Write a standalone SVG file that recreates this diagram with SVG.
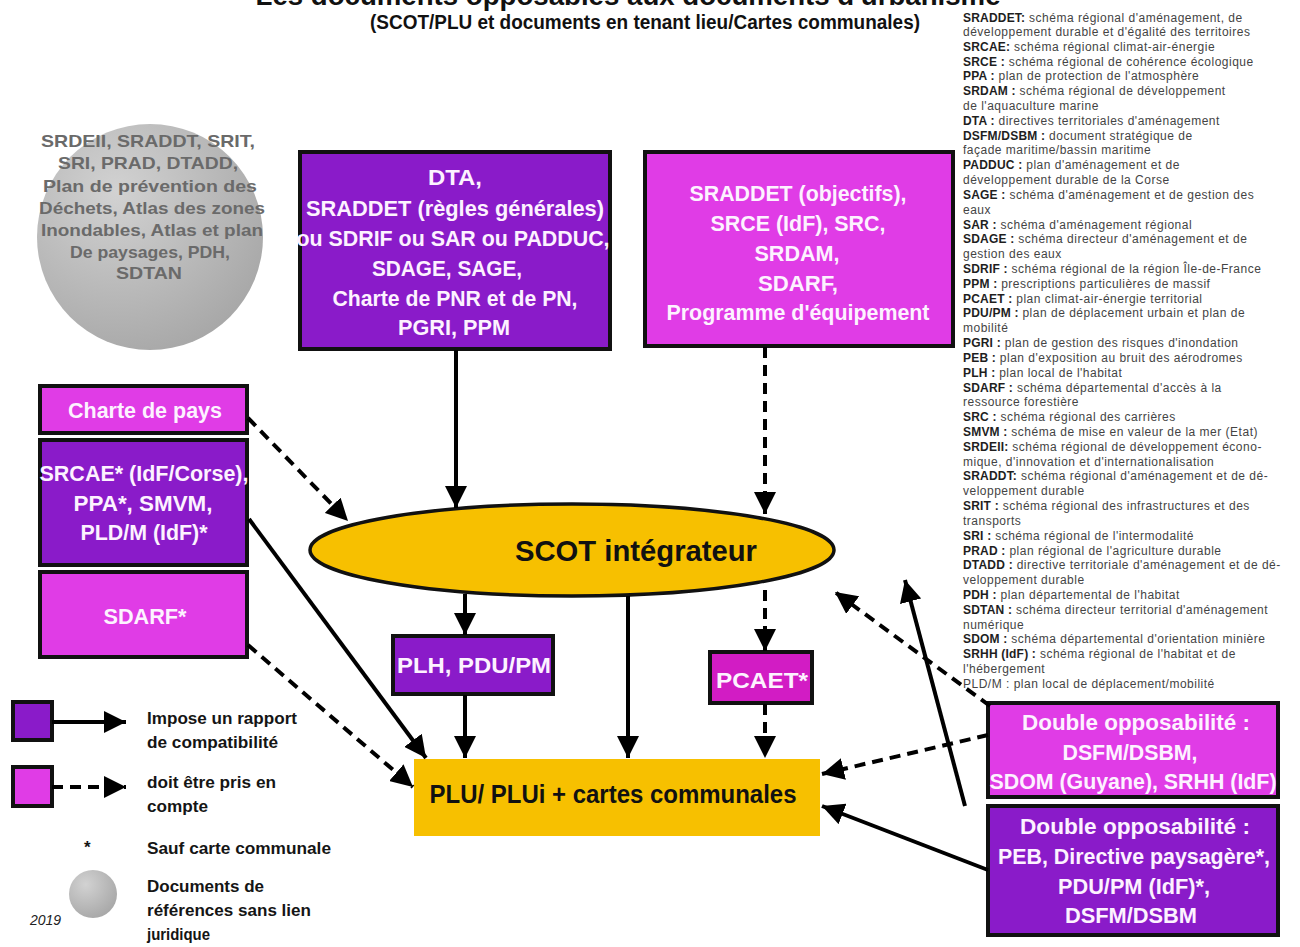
<svg xmlns="http://www.w3.org/2000/svg" width="1300" height="947" viewBox="0 0 1300 947">
  <style>
    .box { stroke: #111; stroke-width: 4; }
    .purple { fill: #8a1bc9; }
    .magenta { fill: #e03ce6; }
    .pink { fill: #d21cc4; }
    .gold { fill: #f7c000; }
    .bt { font-family: "Liberation Sans", Arial, sans-serif; font-weight: bold; fill: #fdf2ff; text-anchor: middle; font-size: 22px; }
    .dark { font-family: "Liberation Sans", Arial, sans-serif; font-weight: bold; fill: #111; text-anchor: middle; }
    .grey { font-family: "Liberation Sans", Arial, sans-serif; font-weight: bold; fill: #6a6a6a; text-anchor: middle; font-size: 17px; }
    .leg { font-family: "Liberation Sans", Arial, sans-serif; font-weight: bold; fill: #151515; font-size: 17px; }
    .glo { font-family: "Liberation Sans", Arial, sans-serif; font-size: 12px; letter-spacing: 0.5px; fill: #444; }
    .glo tspan.k { font-weight: bold; fill: #1e1e1e; letter-spacing: 0.2px; }
    .solid { stroke: #000; stroke-width: 4; fill: none; marker-end: url(#arrow); }
    .dash { stroke: #000; stroke-width: 4; fill: none; stroke-dasharray: 11 7; marker-end: url(#arrow); }
  </style>
  <defs>
    <marker id="arrow" markerUnits="userSpaceOnUse" markerWidth="24" markerHeight="22" refX="22" refY="11" orient="auto">
      <path d="M0,0 L22,11 L0,22 z" fill="#000"/>
    </marker>
    <radialGradient id="greyBall" cx="0.35" cy="0.3" r="0.85">
      <stop offset="0" stop-color="#d2d2d2"/>
      <stop offset="1" stop-color="#a2a2a2"/>
    </radialGradient>
  </defs>

  <rect width="1300" height="947" fill="#ffffff"/>

  <!-- heading -->
  <g id="title">
    <text x="628" y="5" class="dark" font-size="28" textLength="745" lengthAdjust="spacingAndGlyphs" fill="#222">Les documents opposables aux documents d'urbanisme</text>
    <text x="645" y="29" class="dark" font-size="20" textLength="550" lengthAdjust="spacingAndGlyphs" fill="#222">(SCOT/PLU et documents en tenant lieu/Cartes communales)</text>
  </g>

  <!-- reference documents without legal link -->
  <g id="node-references">
    <circle cx="150" cy="237" r="113" fill="url(#greyBall)"/>
    <text class="grey" x="148" y="147" textLength="214" lengthAdjust="spacingAndGlyphs">SRDEII, SRADDT, SRIT,</text>
    <text class="grey" x="148" y="169" textLength="180" lengthAdjust="spacingAndGlyphs">SRI, PRAD, DTADD,</text>
    <text class="grey" x="150" y="192" textLength="214" lengthAdjust="spacingAndGlyphs">Plan de prévention des</text>
    <text class="grey" x="152" y="214" textLength="226" lengthAdjust="spacingAndGlyphs">Déchets, Atlas des zones</text>
    <text class="grey" x="152" y="236" textLength="222" lengthAdjust="spacingAndGlyphs">Inondables, Atlas et plan</text>
    <text class="grey" x="150" y="258" textLength="160" lengthAdjust="spacingAndGlyphs">De paysages, PDH,</text>
    <text class="grey" x="149" y="279" textLength="66" lengthAdjust="spacingAndGlyphs">SDTAN</text>
  </g>

  <g id="node-dta">
    <rect class="box purple" x="300" y="152" width="310" height="197"/>
    <text class="bt" x="455" y="185" textLength="54" lengthAdjust="spacingAndGlyphs">DTA,</text>
    <text class="bt" x="455" y="216" textLength="298" lengthAdjust="spacingAndGlyphs">SRADDET (règles générales)</text>
    <text class="bt" x="453" y="246" textLength="313" lengthAdjust="spacingAndGlyphs">ou SDRIF ou SAR ou PADDUC,</text>
    <text class="bt" x="447" y="276" textLength="150" lengthAdjust="spacingAndGlyphs">SDAGE, SAGE,</text>
    <text class="bt" x="455" y="306" textLength="245" lengthAdjust="spacingAndGlyphs">Charte de PNR et de PN,</text>
    <text class="bt" x="454" y="335" textLength="112" lengthAdjust="spacingAndGlyphs">PGRI, PPM</text>
  </g>

  <g id="node-sraddet-objectifs">
    <rect class="box magenta" x="645" y="152" width="308" height="194"/>
    <text class="bt" x="798" y="201" textLength="217" lengthAdjust="spacingAndGlyphs">SRADDET (objectifs),</text>
    <text class="bt" x="798" y="231" textLength="175" lengthAdjust="spacingAndGlyphs">SRCE (IdF), SRC,</text>
    <text class="bt" x="797" y="261" textLength="85" lengthAdjust="spacingAndGlyphs">SRDAM,</text>
    <text class="bt" x="798" y="291" textLength="80" lengthAdjust="spacingAndGlyphs">SDARF,</text>
    <text class="bt" x="798" y="320" textLength="263" lengthAdjust="spacingAndGlyphs">Programme d'équipement</text>
  </g>

  <g id="node-charte-pays">
    <rect class="box magenta" x="40" y="386" width="207" height="47"/>
    <text class="bt" x="145" y="418" textLength="154" lengthAdjust="spacingAndGlyphs">Charte de pays</text>
  </g>

  <g id="node-srcae">
    <rect class="box purple" x="40" y="440" width="207" height="125"/>
    <text class="bt" x="144" y="481" textLength="209" lengthAdjust="spacingAndGlyphs">SRCAE* (IdF/Corse),</text>
    <text class="bt" x="143" y="511" textLength="139" lengthAdjust="spacingAndGlyphs">PPA*, SMVM,</text>
    <text class="bt" x="144" y="540" textLength="127" lengthAdjust="spacingAndGlyphs">PLD/M (IdF)*</text>
  </g>

  <g id="node-sdarf">
    <rect class="box magenta" x="40" y="572" width="207" height="85"/>
    <text class="bt" x="145" y="624" textLength="83" lengthAdjust="spacingAndGlyphs">SDARF*</text>
  </g>

  <g id="node-scot">
    <ellipse cx="572" cy="550" rx="262" ry="46" class="gold" stroke="#111" stroke-width="3.5"/>
    <text class="dark" x="636" y="561" font-size="30" textLength="242" lengthAdjust="spacingAndGlyphs">SCOT intégrateur</text>
  </g>

  <g id="node-plh">
    <rect class="box purple" x="393" y="636" width="160" height="58"/>
    <text class="bt" x="474" y="673" textLength="154" lengthAdjust="spacingAndGlyphs">PLH, PDU/PM</text>
  </g>

  <g id="node-pcaet">
    <rect class="box pink" x="710" y="652" width="102" height="51"/>
    <text class="bt" x="762" y="688" textLength="92" lengthAdjust="spacingAndGlyphs">PCAET*</text>
  </g>

  <g id="node-plu">
    <rect class="gold" x="414" y="759" width="406" height="77"/>
    <text class="dark" x="613" y="803" font-size="25" textLength="367" lengthAdjust="spacingAndGlyphs">PLU/ PLUi + cartes communales</text>
  </g>

  <g id="node-double-1">
    <rect class="box magenta" x="988" y="703" width="290" height="94"/>
    <text class="bt" x="1136" y="730" textLength="228" lengthAdjust="spacingAndGlyphs">Double opposabilité  :</text>
    <text class="bt" x="1130" y="760" textLength="135" lengthAdjust="spacingAndGlyphs">DSFM/DSBM,</text>
    <text class="bt" x="1133" y="789" textLength="287" lengthAdjust="spacingAndGlyphs">SDOM (Guyane), SRHH (IdF)</text>
  </g>

  <g id="node-double-2">
    <rect class="box purple" x="988" y="806" width="290" height="129"/>
    <text class="bt" x="1135" y="834" textLength="230" lengthAdjust="spacingAndGlyphs">Double opposabilité  :</text>
    <text class="bt" x="1134" y="864" textLength="272" lengthAdjust="spacingAndGlyphs">PEB, Directive paysagère*,</text>
    <text class="bt" x="1134" y="894" textLength="152" lengthAdjust="spacingAndGlyphs">PDU/PM (IdF)*,</text>
    <text class="bt" x="1131" y="923" textLength="132" lengthAdjust="spacingAndGlyphs">DSFM/DSBM</text>
  </g>

  <!-- relations: solid = compatibility, dashed = taken into account -->
  <g id="connectors">
    <line class="solid" x1="456" y1="350" x2="456" y2="508"/>
    <line class="dash" x1="765" y1="347" x2="765" y2="514"/>
    <line class="dash" x1="248" y1="418" x2="348" y2="521"/>
    <line class="solid" x1="249" y1="519" x2="426" y2="758"/>
    <line class="dash" x1="248" y1="645" x2="413" y2="787"/>
    <line class="solid" x1="465" y1="594" x2="465" y2="635"/>
    <line class="solid" x1="465" y1="695" x2="465" y2="758"/>
    <line class="solid" x1="628" y1="596" x2="628" y2="758"/>
    <line class="dash" x1="765" y1="590" x2="765" y2="651"/>
    <line class="dash" x1="765" y1="704" x2="765" y2="758"/>
    <line class="dash" x1="988" y1="735" x2="822" y2="774"/>
    <line class="dash" x1="990" y1="706" x2="835" y2="592"/>
    <line class="solid" x1="988" y1="870" x2="822" y2="806"/>
    <line class="solid" x1="965" y1="806" x2="905" y2="580"/>
  </g>

  <!-- key -->
  <g id="legend">
    <rect class="box purple" x="13" y="702" width="39" height="38"/>
    <line class="solid" x1="52" y1="722" x2="126" y2="722"/>
    <text class="leg" x="147" y="724" textLength="150" lengthAdjust="spacingAndGlyphs">Impose un rapport</text>
    <text class="leg" x="147" y="748" textLength="131" lengthAdjust="spacingAndGlyphs">de compatibilité</text>
    <rect class="box magenta" x="13" y="767" width="39" height="39"/>
    <line class="dash" x1="52" y1="787" x2="126" y2="787"/>
    <text class="leg" x="147" y="788" textLength="129" lengthAdjust="spacingAndGlyphs">doit être pris en</text>
    <text class="leg" x="147" y="812" textLength="61" lengthAdjust="spacingAndGlyphs">compte</text>
    <text class="leg" x="84" y="853" font-size="16">*</text>
    <text class="leg" x="147" y="854" textLength="184" lengthAdjust="spacingAndGlyphs">Sauf carte communale</text>
    <circle cx="93" cy="894" r="24" fill="url(#greyBall)"/>
    <text class="leg" x="147" y="892" textLength="117" lengthAdjust="spacingAndGlyphs">Documents de</text>
    <text class="leg" x="147" y="916" textLength="164" lengthAdjust="spacingAndGlyphs">références sans lien</text>
    <text class="leg" x="147" y="940" textLength="63" lengthAdjust="spacingAndGlyphs">juridique</text>
    <text x="30" y="925" font-family="Liberation Sans, Arial, sans-serif" font-style="italic" font-size="14" fill="#222">2019</text>
  </g>

  <!-- abbreviations -->
  <g id="glossary" class="glo">
    <text x="963" y="22"><tspan class="k">SRADDET:</tspan> schéma régional d'aménagement, de</text>
    <text x="963" y="35.8">développement durable et d'égalité des territoires</text>
    <text x="963" y="50.6"><tspan class="k">SRCAE:</tspan> schéma régional climat-air-énergie</text>
    <text x="963" y="65.5"><tspan class="k">SRCE :</tspan> schéma régional de cohérence écologique</text>
    <text x="963" y="80.3"><tspan class="k">PPA :</tspan> plan de protection de l'atmosphère</text>
    <text x="963" y="95.1"><tspan class="k">SRDAM :</tspan> schéma régional de développement</text>
    <text x="963" y="109.9">de l'aquaculture marine</text>
    <text x="963" y="124.7"><tspan class="k">DTA :</tspan> directives territoriales d'aménagement</text>
    <text x="963" y="139.6"><tspan class="k">DSFM/DSBM :</tspan> document stratégique de</text>
    <text x="963" y="154.4">façade maritime/bassin maritime</text>
    <text x="963" y="169.2"><tspan class="k">PADDUC :</tspan> plan d'aménagement et de</text>
    <text x="963" y="184">développement durable de la Corse</text>
    <text x="963" y="198.8"><tspan class="k">SAGE :</tspan> schéma d'aménagement et de gestion des</text>
    <text x="963" y="213.7">eaux</text>
    <text x="963" y="228.5"><tspan class="k">SAR :</tspan> schéma d'aménagement régional</text>
    <text x="963" y="243.3"><tspan class="k">SDAGE :</tspan> schéma directeur d'aménagement et de</text>
    <text x="963" y="258.1">gestion des eaux</text>
    <text x="963" y="272.9"><tspan class="k">SDRIF :</tspan> schéma régional de la région Île-de-France</text>
    <text x="963" y="287.8"><tspan class="k">PPM :</tspan> prescriptions particulières de massif</text>
    <text x="963" y="302.6"><tspan class="k">PCAET :</tspan> plan climat-air-énergie territorial</text>
    <text x="963" y="317.4"><tspan class="k">PDU/PM :</tspan> plan de déplacement urbain et plan de</text>
    <text x="963" y="332.2">mobilité</text>
    <text x="963" y="347"><tspan class="k">PGRI :</tspan> plan de gestion des risques d'inondation</text>
    <text x="963" y="361.9"><tspan class="k">PEB :</tspan> plan d'exposition au bruit des aérodromes</text>
    <text x="963" y="376.7"><tspan class="k">PLH :</tspan> plan local de l'habitat</text>
    <text x="963" y="391.5"><tspan class="k">SDARF :</tspan> schéma départemental d'accès à la</text>
    <text x="963" y="406.3">ressource forestière</text>
    <text x="963" y="421.1"><tspan class="k">SRC :</tspan> schéma régional des carrières</text>
    <text x="963" y="436"><tspan class="k">SMVM :</tspan> schéma de mise en valeur de la mer (Etat)</text>
    <text x="963" y="450.8"><tspan class="k">SRDEII:</tspan> schéma régional de développement écono-</text>
    <text x="963" y="465.6">mique, d'innovation et d'internationalisation</text>
    <text x="963" y="480.4"><tspan class="k">SRADDT:</tspan> schéma régional d'aménagement et de dé-</text>
    <text x="963" y="495.2">veloppement durable</text>
    <text x="963" y="510.1"><tspan class="k">SRIT :</tspan> schéma régional des infrastructures et des</text>
    <text x="963" y="524.9">transports</text>
    <text x="963" y="539.7"><tspan class="k">SRI :</tspan> schéma régional de l'intermodalité</text>
    <text x="963" y="554.5"><tspan class="k">PRAD :</tspan> plan régional de l'agriculture durable</text>
    <text x="963" y="569.3"><tspan class="k">DTADD :</tspan> directive territoriale d'aménagement et de dé-</text>
    <text x="963" y="584.2">veloppement durable</text>
    <text x="963" y="599"><tspan class="k">PDH :</tspan> plan départemental de l'habitat</text>
    <text x="963" y="613.8"><tspan class="k">SDTAN :</tspan> schéma directeur territorial d'aménagement</text>
    <text x="963" y="628.6">numérique</text>
    <text x="963" y="643.4"><tspan class="k">SDOM :</tspan> schéma départemental d'orientation minière</text>
    <text x="963" y="658.3"><tspan class="k">SRHH (IdF) :</tspan> schéma régional de l'habitat et de</text>
    <text x="963" y="673.1">l'hébergement</text>
    <text x="963" y="687.9">PLD/M : plan local de déplacement/mobilité</text>
  </g>
</svg>
